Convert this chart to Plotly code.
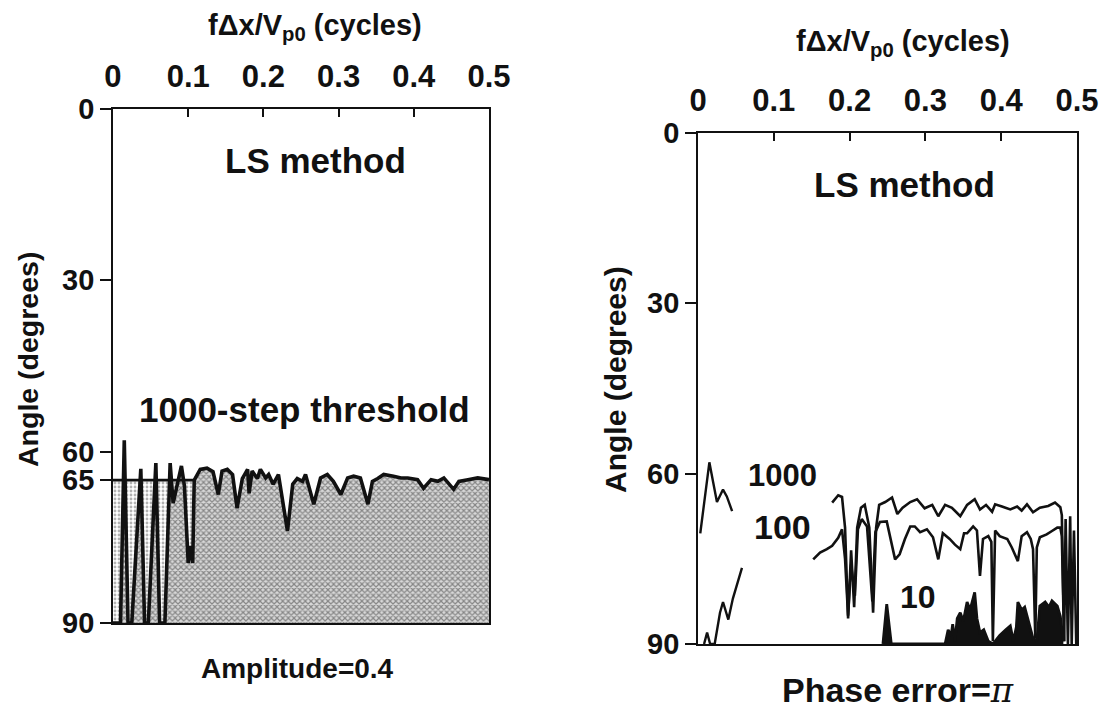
import plotly.graph_objects as go

# ---- Left panel: LS method, Amplitude = 0.4 (angle vs normalized frequency) ----
amp_freq = [0.000, 0.010, 0.015, 0.020, 0.025, 0.037, 0.042, 0.047, 0.057, 0.062,
            0.069, 0.076, 0.080, 0.091, 0.095, 0.099, 0.100, 0.103, 0.106, 0.108,
            0.112, 0.116, 0.125, 0.133, 0.140, 0.145, 0.152, 0.159, 0.165, 0.172,
            0.179, 0.181, 0.185, 0.192, 0.196, 0.203, 0.207, 0.213, 0.220, 0.232,
            0.239, 0.245, 0.252, 0.256, 0.267, 0.276, 0.285, 0.293, 0.303, 0.312,
            0.320, 0.329, 0.339, 0.345, 0.352, 0.360, 0.373, 0.383, 0.392, 0.405,
            0.413, 0.423, 0.432, 0.440, 0.453, 0.460, 0.472, 0.485, 0.500]
amp_angle = [90, 90, 58, 90, 90, 63, 90, 90, 62, 90,
             90, 62, 69, 62.5, 66, 77, 79.5, 76.5, 79.5, 65,
             64, 63.1, 62.9, 63.5, 67.5, 63.4, 63.1, 64, 69.9, 64.7,
             63.1, 67.3, 63.4, 64.7, 63.1, 64.6, 64, 65.7, 64, 73.9,
             65.7, 64.7, 65.2, 64, 69.2, 64.6, 64, 65.2, 67.5, 64.6,
             64.3, 64.6, 69.2, 65.2, 64.7, 64, 64.3, 64.6, 64.6, 64.9,
             66.4, 64.9, 65.2, 64.6, 66.6, 65.2, 64.9, 64.6, 64.9]

threshold_freq = [0.0, 0.108]
threshold_angle = [65, 65]

# ---- Right panel: LS method, Phase error = pi ----
s1000_freq_a = [0.003, 0.015, 0.020, 0.025, 0.033, 0.038, 0.045]
s1000_angle_a = [70.5, 58, 61.5, 65, 62.8, 64, 66.6]
s1000_freq_b = [0.177, 0.185, 0.190, 0.194, 0.198, 0.202, 0.206, 0.210, 0.215, 0.220,
                0.226, 0.231, 0.235, 0.239, 0.247, 0.256, 0.263, 0.270, 0.280, 0.289,
                0.299, 0.309, 0.317, 0.326, 0.335, 0.346, 0.355, 0.365, 0.372, 0.380,
                0.388, 0.392, 0.401, 0.412, 0.421, 0.427, 0.434, 0.442, 0.451, 0.462,
                0.471, 0.478, 0.480, 0.483, 0.485, 0.488, 0.491, 0.493, 0.496, 0.499]
s1000_angle_b = [65.1, 63.8, 64.1, 69.5, 85.5, 73.5, 83.5, 69.5, 66, 65.5,
                 69.5, 84.5, 69.5, 65.5, 65, 64.2, 67.1, 66, 65, 64.5,
                 66.1, 65.5, 67.5, 65.5, 66, 67.5, 65.5, 64.5, 66.3, 65.5,
                 66.7, 65.4, 65.8, 66.3, 65.8, 66.5, 65.4, 66.8, 66, 65.7,
                 65.1, 65.9, 67.3, 89.5, 68, 90, 67.5, 90, 70, 90]

s100_freq_a = [0.008, 0.012, 0.016, 0.022, 0.029, 0.033, 0.040, 0.046, 0.058]
s100_angle_a = [90, 88, 90, 90, 84.5, 82.6, 85.7, 82, 76.6]
s100_freq_b = [0.152, 0.161, 0.170, 0.177, 0.185, 0.190, 0.194, 0.198, 0.202, 0.207,
               0.211, 0.216, 0.223, 0.230, 0.234, 0.240, 0.249, 0.260, 0.266, 0.273,
               0.280, 0.286, 0.293, 0.302, 0.310, 0.317, 0.323, 0.332, 0.339, 0.346,
               0.351, 0.355, 0.363, 0.368, 0.372, 0.376, 0.383, 0.387, 0.389, 0.392,
               0.398, 0.408, 0.414, 0.418, 0.422, 0.427, 0.434, 0.439, 0.442, 0.445,
               0.447, 0.451, 0.460, 0.467, 0.474, 0.478, 0.480, 0.483]
s100_angle_b = [75.1, 73.9, 73.3, 72.7, 71.3, 69.8, 75, 85, 76, 81.5,
                69.8, 68, 69.3, 82.5, 70.3, 68.5, 68.4, 75.1, 74.2, 71.5,
                69.3, 69.3, 70.3, 69.8, 71.2, 75.1, 70.5, 71.5, 72.5, 73.3,
                70.5, 70.5, 69.3, 70, 78, 71.5, 71, 72, 89.5, 70,
                71, 71.5, 73, 74.2, 75.4, 71, 70.3, 71.5, 73.3, 89,
                73, 71.2, 70.7, 70.1, 69.5, 69.5, 71, 89.5]

s10_freq = [0.244, 0.249, 0.255, 0.326, 0.330, 0.334, 0.336, 0.339, 0.342, 0.346,
            0.350, 0.355, 0.359, 0.365, 0.368, 0.372, 0.377, 0.383, 0.389, 0.398,
            0.406, 0.412, 0.416, 0.420, 0.422, 0.427, 0.431, 0.434, 0.438, 0.442,
            0.447, 0.451, 0.458, 0.463, 0.467, 0.474, 0.478, 0.482]
s10_angle = [90, 83, 90, 90, 87.5, 88.5, 86.5, 89.5, 85.5, 84.5,
             86, 82.6, 84, 80.9, 85.5, 88, 87.5, 89.5, 90, 88.5,
             87.5, 86.8, 89.5, 87, 82.6, 84, 83.5, 85.1, 86.8, 89,
             89.5, 83.3, 82.6, 83.5, 82.4, 83.3, 85.1, 89.5]

freq_ticks = [0, 0.1, 0.2, 0.3, 0.4, 0.5]
freq_ticktext = ["0", "0.1", "0.2", "0.3", "0.4", "0.5"]
left_angle_ticks = [0, 30, 60, 65, 90]
right_angle_ticks = [0, 30, 60, 90]

FONT = "Liberation Sans, Arial, Helvetica, sans-serif"
BLACK = "#111111"

fig = go.Figure()

# Stippled region under the threshold in the low-frequency part
fig.add_trace(go.Scatter(
    x=[threshold_freq[0]] + threshold_freq + [threshold_freq[-1]],
    y=[90] + threshold_angle + [90],
    mode="none", fill="toself", fillcolor="#e8e8e8",
    fillpattern=dict(shape=".", size=4, solidity=0.4, fgcolor="#666666", bgcolor="#ffffff"),
    xaxis="x", yaxis="y", showlegend=False, hoverinfo="skip"))

# Shaded region below the angle curve
fig.add_trace(go.Scatter(
    x=[amp_freq[0]] + amp_freq + [amp_freq[-1]],
    y=[90] + amp_angle + [90],
    mode="none", fill="toself", fillcolor="#bdbdbd",
    fillpattern=dict(shape="x", size=4, solidity=0.5, fgcolor="#333333", bgcolor="#d8d8d8"),
    xaxis="x", yaxis="y", showlegend=False, hoverinfo="skip"))

fig.add_trace(go.Scatter(x=threshold_freq, y=threshold_angle, mode="lines",
                         line=dict(color=BLACK, width=2.8),
                         xaxis="x", yaxis="y", showlegend=False))
fig.add_trace(go.Scatter(x=amp_freq, y=amp_angle, mode="lines",
                         line=dict(color=BLACK, width=3.6),
                         xaxis="x", yaxis="y", showlegend=False))

# Right panel curves
for fx, ay, w in [(s1000_freq_a, s1000_angle_a, 2.4), (s1000_freq_b, s1000_angle_b, 2.6),
                  (s100_freq_a, s100_angle_a, 2.4), (s100_freq_b, s100_angle_b, 2.6)]:
    fig.add_trace(go.Scatter(x=fx, y=ay, mode="lines", line=dict(color=BLACK, width=w),
                             xaxis="x2", yaxis="y2", showlegend=False))

fig.add_trace(go.Scatter(
    x=[s10_freq[0]] + s10_freq + [s10_freq[-1]],
    y=[90] + s10_angle + [90],
    mode="none", fill="toself", fillcolor=BLACK,
    xaxis="x2", yaxis="y2", showlegend=False, hoverinfo="skip"))
fig.add_trace(go.Scatter(x=s10_freq, y=s10_angle, mode="lines",
                         line=dict(color=BLACK, width=2.8),
                         xaxis="x2", yaxis="y2", showlegend=False))

xtickfont = dict(family=FONT, size=31, color=BLACK, weight="bold")
ytickfont = dict(family=FONT, size=29, color=BLACK, weight="bold")

xaxis_common = dict(
    side="top", range=[0, 0.5], tickvals=freq_ticks, ticktext=freq_ticktext,
    ticks="inside", ticklen=8, tickwidth=1.5, tickcolor=BLACK,
    showline=True, linecolor=BLACK, linewidth=1.8, mirror=True,
    showgrid=False, zeroline=False, tickfont=xtickfont, ticklabelstandoff=8,
    automargin=False,
)
yaxis_common = dict(
    range=[90, 0], ticks="outside", ticklen=11, tickwidth=1.5, tickcolor=BLACK,
    showline=True, linecolor=BLACK, linewidth=1.8, mirror=True,
    showgrid=False, zeroline=False, tickfont=ytickfont, automargin=False,
)

fig.update_layout(
    width=1116, height=709,
    margin=dict(l=0, r=0, t=0, b=0),
    paper_bgcolor="white", plot_bgcolor="white",
    font=dict(family=FONT, color=BLACK),
    xaxis=dict(domain=[0.10125, 0.43817], anchor="y", **xaxis_common),
    yaxis=dict(domain=[0.12130, 0.84626], anchor="x", tickvals=left_angle_ticks, **yaxis_common),
    xaxis2=dict(domain=[0.62545, 0.96505], anchor="y2", **xaxis_common),
    yaxis2=dict(domain=[0.09168, 0.81241], anchor="x2", tickvals=right_angle_ticks, **yaxis_common),
)

def label(text, x, y, size, xref="paper", yref="paper", angle=0):
    fig.add_annotation(text=text, x=x, y=y, xref=xref, yref=yref, showarrow=False,
                       textangle=angle, xanchor="center", yanchor="middle",
                       font=dict(family=FONT, size=size, color=BLACK, weight="bold"))

title_top = "f\u0394x/V<sub>p0</sub> (cycles)"
label(title_top, 315 / 1116, 1 - 27 / 709, 29)
label(title_top, 903 / 1116, 1 - 43 / 709, 29)
label("Angle (degrees)", 28 / 1116, 1 - 360 / 709, 28.5, angle=-90)
label("Angle (degrees)", 615 / 1116, 1 - 380 / 709, 30, angle=-90)
label("Amplitude=0.4", 297 / 1116, 1 - 668 / 709, 28)
label("Phase error=<span style=\"font-family:'DejaVu Serif';font-weight:normal;"
      "font-style:italic\">\u03c0</span>",
      898 / 1116, 1 - 690 / 709, 34)

label("LS method", 0.269, 9.0, 35, xref="x", yref="y")
label("1000-step threshold", 0.255, 52.7, 35, xref="x", yref="y")
label("LS method", 0.273, 9.0, 35, xref="x2", yref="y2")
label("1000", 0.112, 60.3, 31, xref="x2", yref="y2")
label("100", 0.112, 69.4, 34, xref="x2", yref="y2")
label("10", 0.290, 81.7, 32, xref="x2", yref="y2")

fig.write_html("out.html")
